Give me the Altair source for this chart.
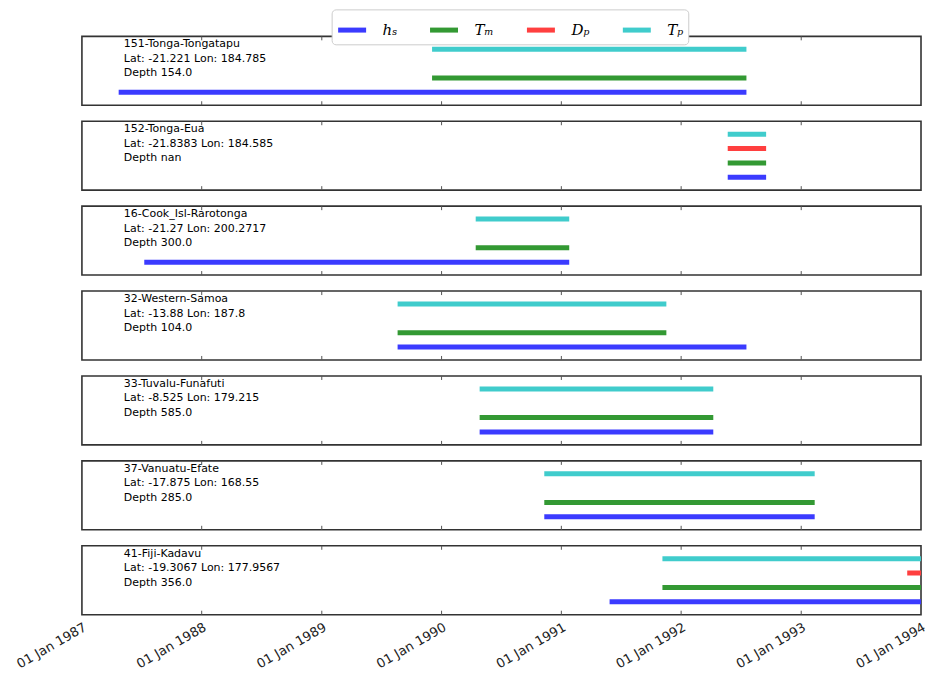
import altair as alt
import pandas as pd

stations = ["151-Tonga-Tongatapu", "152-Tonga-Eua", "16-Cook_Isl-Rarotonga",
            "32-Western-Samoa", "33-Tuvalu-Funafuti", "37-Vanuatu-Efate", "41-Fiji-Kadavu"]
lats = ["-21.221", "-21.8383", "-21.27", "-13.88", "-8.525", "-17.875", "-19.3067"]
lons = ["184.785", "184.585", "200.2717", "187.8", "179.215", "168.55", "177.9567"]
depths = ["154.0", "nan", "300.0", "104.0", "585.0", "285.0", "356.0"]

var_labels = ["hₛ", "Tₘ", "Dₚ", "Tₚ"]
var_levels = [1, 2, 3, 4]
var_colors = ["#3b3bff", "#339933", "#ff3f3f", "#40cccc"]

hs_start = ["1987-04-23", "1992-05-22", "1987-07-10", "1989-08-20", "1990-04-27", "1990-11-10", "1991-05-28"]
hs_end = ["1992-07-18", "1992-09-16", "1991-01-25", "1992-07-18", "1992-04-08", "1993-02-11", "1994-02-15"]
tm_start = ["1989-12-03", "1992-05-22", "1990-04-15", "1989-08-20", "1990-04-27", "1990-11-10", "1991-11-05"]
tm_end = ["1992-07-18", "1992-09-16", "1991-01-25", "1991-11-17", "1992-04-08", "1993-02-11", "1994-02-15"]
dp_start = [None, "1992-05-22", None, None, None, None, "1993-11-20"]
dp_end = [None, "1992-09-16", None, None, None, None, "1994-02-15"]
tp_start = ["1989-12-03", "1992-05-22", "1990-04-15", "1989-08-20", "1990-04-27", "1990-11-10", "1991-11-05"]
tp_end = ["1992-07-18", "1992-09-16", "1991-01-25", "1991-11-17", "1992-04-08", "1993-02-11", "1994-02-15"]

tick_dates = ["1988-01-01", "1989-01-01", "1990-01-01", "1991-01-01", "1992-01-01", "1993-01-01"]
label_years = [1987, 1988, 1989, 1990, 1991, 1992, 1993, 1994]

starts = [hs_start, tm_start, dp_start, tp_start]
ends = [hs_end, tm_end, dp_end, tp_end]

W, H = 840, 69

legend = alt.Legend(orient="none", legendX=250, legendY=-27, direction="horizontal", title=None,
                    symbolType="stroke", symbolStrokeWidth=5, symbolSize=784, symbolOpacity=1,
                    labelFont="DejaVu Serif", labelFontStyle="italic", labelFontSize=15,
                    labelOffset=14, columnPadding=22, padding=4, fillColor="white",
                    strokeColor="#cccccc", cornerRadius=4)

xscale = alt.Scale(domain=[alt.DateTime(year=1987, month=1, date=1),
                           alt.DateTime(year=1994, month=1, date=1)])
yscale = alt.Scale(domain=[0.1, 4.9])
cscale = alt.Scale(domain=var_labels, range=var_colors)

ticks_df = pd.DataFrame({"t": pd.to_datetime(tick_dates)})

panels = []
for i in range(len(stations)):
    rows = []
    for lab, lev, s, e in zip(var_labels, var_levels, starts, ends):
        if s[i] is not None:
            rows.append({"var": lab, "level": lev, "start": pd.Timestamp(s[i]), "end": pd.Timestamp(e[i])})
    df = pd.DataFrame(rows)
    last = i == len(stations) - 1
    if last:
        axis = alt.Axis(values=[alt.DateTime(year=y, month=1, date=1) for y in label_years],
                        format="%d %b %Y", labelAngle=330, labelAlign="right", labelBaseline="top",
                        ticks=False, domain=False, grid=False, labelFontSize=13,
                        labelFont="DejaVu Sans", labelColor="#222222", labelPadding=6,
                        title=None, labelOverlap=False, labelFlush=False)
    else:
        axis = None
    bars = alt.Chart(df).mark_rule(strokeWidth=5, clip=True, strokeCap="butt").encode(
        x=alt.X("start:T", scale=xscale, axis=axis),
        x2="end:T",
        y=alt.Y("level:Q", scale=yscale, axis=None),
        color=alt.Color("var:N", scale=cscale, legend=legend),
    )
    tk_top = alt.Chart(ticks_df).mark_rule(color="#555555", strokeWidth=1).encode(
        x=alt.X("t:T", scale=xscale, axis=axis), y=alt.value(0), y2=alt.value(4))
    tk_bot = alt.Chart(ticks_df).mark_rule(color="#555555", strokeWidth=1).encode(
        x=alt.X("t:T", scale=xscale, axis=axis), y=alt.value(H - 4), y2=alt.value(H))
    txt_df = pd.DataFrame({"txt": [f"{stations[i]}\nLat: {lats[i]} Lon: {lons[i]}\nDepth {depths[i]}"]})
    txt = alt.Chart(txt_df).mark_text(align="left", baseline="top", lineBreak="\n", lineHeight=14.5,
                                      fontSize=11, font="DejaVu Sans", color="black").encode(
        x=alt.value(42), y=alt.value(2), text="txt:N")
    panels.append(alt.layer(bars, tk_top, tk_bot, txt).properties(width=W, height=H))

chart = alt.vconcat(*panels, spacing=12).resolve_scale(color="shared").resolve_legend(color="shared").properties(
    padding={"left": 5, "top": 0, "right": -1, "bottom": 0}
).configure_view(stroke="#333333", strokeWidth=1.6)

chart.save("out.html", embed_options={"renderer": "svg", "actions": False})
